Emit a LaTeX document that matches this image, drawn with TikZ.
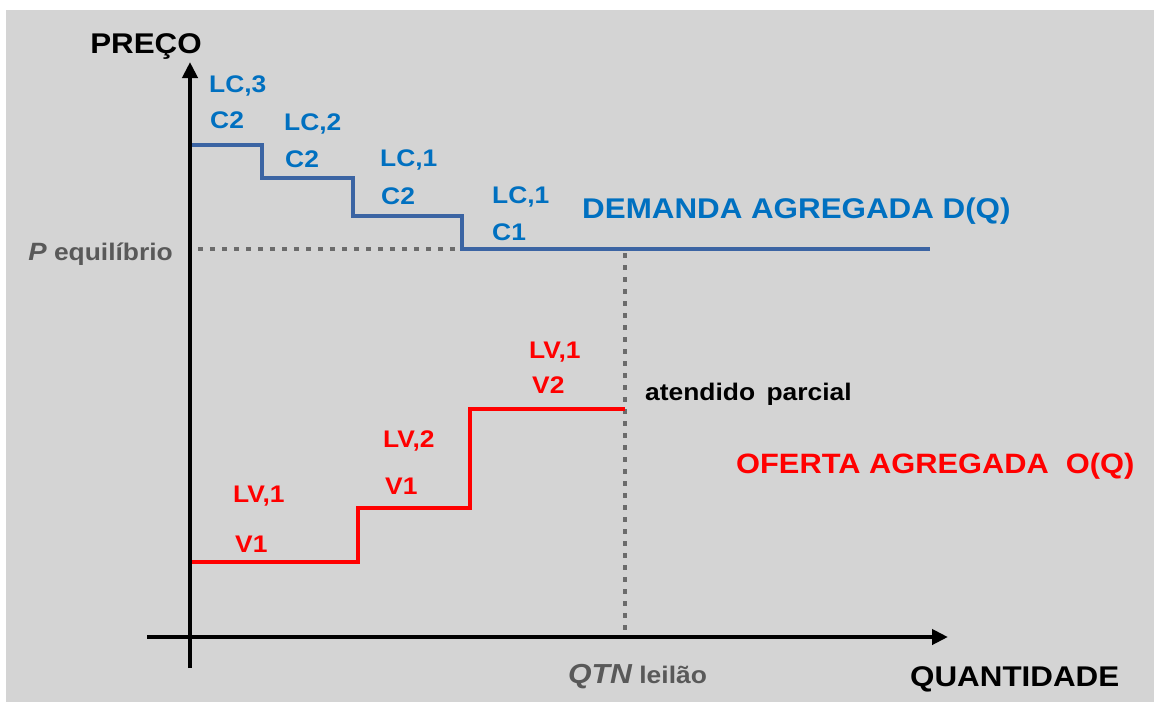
\documentclass[tikz,border=0pt]{standalone}
\usepackage{fontspec}
\setmainfont{Liberation Sans}[FakeStretch=1.1]
\usetikzlibrary{arrows.meta}
\definecolor{bg}{HTML}{D4D4D4}
\definecolor{lblblue}{HTML}{0070C0}
\definecolor{lineblue}{HTML}{3B64A3}
\definecolor{gtext}{HTML}{595959}
\definecolor{gdot}{HTML}{6B6B6B}
\definecolor{supred}{HTML}{FF0000}
\begin{document}
\begin{tikzpicture}[x=1pt,y=-1pt,
  axis/.style={line width=4pt,-{Triangle[length=16pt,width=15pt]}},
  demand/.style={draw=lineblue,line width=4pt,line join=miter},
  supply/.style={draw=supred,line width=4.5pt,line join=miter},
  dotline/.style={draw=gdot,line width=4.5pt,dash pattern=on 5pt off 7pt},
  lbl/.style={inner sep=0pt,anchor=base west,font=\fontsize{24}{28}\selectfont\bfseries},
  bluelbl/.style={lbl,text=lblblue},
  redlbl/.style={lbl,text=supred},
  biglbl/.style={inner sep=0pt,anchor=base west,font=\fontsize{28.5}{32}\selectfont\bfseries},
  graylbl/.style={lbl,text=gtext}]
\useasboundingbox (0,0) rectangle (1154,702);
\fill[bg] (6,10) rectangle (1154,702);
% axes
\coordinate (yb) at (190,668);
\coordinate (yt) at (190,62);
\coordinate (xl) at (147,637);
\coordinate (xr) at (948,637);
\draw[axis] (yb) -- (yt);
\draw[axis] (xl) -- (xr);
% equilibrium guides
\coordinate (peqa) at (198,249);
\coordinate (peqb) at (458,249);
\coordinate (qa) at (625,253);
\coordinate (qb) at (625,635);
\draw[dotline] (peqa) -- (peqb);
\draw[dotline] (qa) -- (qb);
% demand
\draw[demand] (192,145) -- (262,145) -- (262,178) -- (353,178) -- (353,216) -- (462,216) -- (462,249) -- (930,249);
% supply
\draw[supply] (192,562) -- (358,562) -- (358,508) -- (470,508) -- (470,409) -- (625,409);
% labels
\node[biglbl,anchor=base] (preco) at (146,53) {PREÇO};
\node[biglbl] (quant) at (910,686) {QUANTIDADE};
\node[graylbl,anchor=base east] (peq) at (173,260) {{\fontsize{25}{28}\selectfont\itshape P} equilíbrio};
\node[graylbl] (qtn) at (568,683) {{\fontsize{27.5}{30}\selectfont\itshape QTN} leilão};
\node[bluelbl] (d1a) at (209,92) {LC,3};
\node[bluelbl] (d1b) at (210,128) {C2};
\node[bluelbl] (d2a) at (284,130) {LC,2};
\node[bluelbl] (d2b) at (285,167) {C2};
\node[bluelbl] (d3a) at (380,166) {LC,1};
\node[bluelbl] (d3b) at (381,204) {C2};
\node[bluelbl] (d4a) at (492,203) {LC,1};
\node[bluelbl] (d4b) at (492,240) {C1};
\node[biglbl,text=lblblue] (dem) at (582,218) {DEMANDA AGREGADA D(Q)};
\node[redlbl] (s1a) at (233,502) {LV,1};
\node[redlbl] (s1b) at (235,552) {V1};
\node[redlbl] (s2a) at (383,447) {LV,2};
\node[redlbl] (s2b) at (385,494) {V1};
\node[redlbl] (s3a) at (529,358) {LV,1};
\node[redlbl] (s3b) at (532,393) {V2};
\node[lbl] (atend) at (645,400) {atendido\ \,parcial};
\node[biglbl,text=supred,font=\fontsize{28}{32}\selectfont\bfseries] (ofe) at (736,473) {OFERTA AGREGADA\ \ O(Q)};
\end{tikzpicture}
\end{document}
